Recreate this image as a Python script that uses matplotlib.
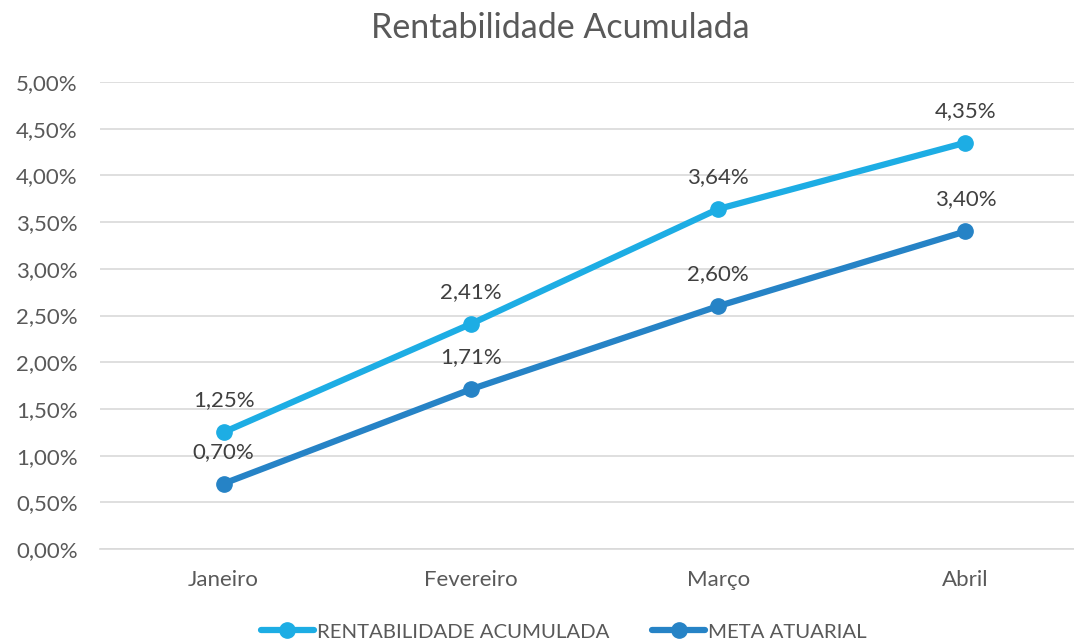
import matplotlib
matplotlib.use("Agg")
import matplotlib.pyplot as plt
from matplotlib.ticker import FuncFormatter, MultipleLocator

categories = ["Janeiro", "Fevereiro", "Março", "Abril"]
rentabilidade = [1.25, 2.41, 3.64, 4.35]
meta = [0.70, 1.71, 2.60, 3.40]
series_names = ["RENTABILIDADE ACUMULADA", "META ATUARIAL"]
colors = ["#1DADE4", "#2683C6"]

plt.rcParams['font.family'] = ['Lato', 'DejaVu Sans']
fig = plt.figure(figsize=(10.74, 6.43), dpi=100)
ax = fig.add_axes([100/1074, 1-549/643, 989/1074, 467/643])

x = list(range(len(categories)))
for vals, name, c in zip([rentabilidade, meta], series_names, colors):
    ax.plot(x, vals, color=c, lw=4.5, marker='o', ms=11, label=name, solid_capstyle='round', zorder=3)
    for xi, v in zip(x, vals):
        ax.annotate(f"{v:.2f}%".replace('.', ','), (xi, v), xytext=(0, 23), textcoords='offset points',
                    ha='center', va='center', fontsize=16, color='#404040')

ax.set_xlim(-0.5, 3.5)
ax.set_ylim(0, 5)
ax.yaxis.set_major_locator(MultipleLocator(0.5))
ax.yaxis.set_major_formatter(FuncFormatter(lambda v, p: f"{v:.2f}%".replace('.', ',')))
ax.set_xticks(x)
ax.set_xticklabels(categories)
ax.grid(axis='y', color='#D9D9D9', lw=1.2)
ax.set_axisbelow(True)
for s in ['top', 'right', 'left']:
    ax.spines[s].set_visible(False)
ax.spines['bottom'].set_color('#D9D9D9')
ax.spines['bottom'].set_linewidth(1.2)
ax.tick_params(axis='both', length=0, labelsize=16, labelcolor='#595959')
ax.tick_params(axis='y', pad=16)
ax.tick_params(axis='x', pad=15)

fig.text(560/1074, 1-28/643, "Rentabilidade Acumulada", ha='center', va='center', fontsize=24.5, color='#595959')
fig.legend(loc='center', bbox_to_anchor=(564/1074, 1-632/643), ncol=2, frameon=False,
           fontsize=14.7, labelcolor='#595959', handlelength=2.6, handletextpad=0.15, columnspacing=2.1)

fig.savefig("out.png", dpi=100)
